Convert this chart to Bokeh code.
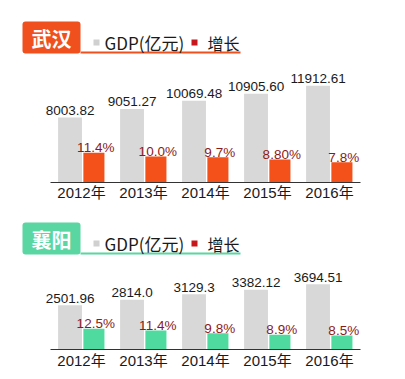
from bokeh.plotting import figure
from bokeh.models import Range1d, ColumnDataSource
from bokeh.transform import dodge
from bokeh.core.properties import value
from bokeh.embed import file_html
from bokeh.resources import INLINE

# ---------------- data ----------------
years = [2012, 2013, 2014, 2015, 2016]
year_labels = ["2012年", "2013年", "2014年", "2015年", "2016年"]

wuhan_gdp = [8003.82, 9051.27, 10069.48, 10905.60, 11912.61]
wuhan_gdp_labels = ["8003.82", "9051.27", "10069.48", "10905.60", "11912.61"]
wuhan_growth = [11.4, 10.0, 9.7, 8.8, 7.8]
wuhan_growth_labels = ["11.4%", "10.0%", "9.7%", "8.80%", "7.8%"]

xiangyang_gdp = [2501.96, 2814.0, 3129.3, 3382.12, 3694.51]
xiangyang_gdp_labels = ["2501.96", "2814.0", "3129.3", "3382.12", "3694.51"]
xiangyang_growth = [12.5, 11.4, 9.8, 8.9, 8.5]
xiangyang_growth_labels = ["12.5%", "11.4%", "9.8%", "8.9%", "8.5%"]

legend_labels = ["GDP(亿元)", "增长"]

NUM_FONT = "'Liberation Sans', 'Noto Sans CJK SC'"
CJK_FONT = "'Noto Sans CJK SC'"
GRAY = "#D8D8D8"
PCT_COLOR = "#8B1A1A"
TEXT = "#1a1a1a"

W, H = 389, 371
PX_PER_YEAR = 62.0
X_FIRST = 81.0  # pixel centre of the first category

p = figure(width=W, height=H, output_backend="svg", toolbar_location=None,
           x_range=Range1d(years[0] - X_FIRST / PX_PER_YEAR,
                           years[0] + (W - X_FIRST) / PX_PER_YEAR),
           y_range=Range1d(H, 0),
           x_axis_location=None, y_axis_location=None,
           min_border=0, min_border_left=0, min_border_right=0,
           min_border_top=0, min_border_bottom=0)
p.outline_line_color = None
p.xgrid.grid_line_color = None
p.ygrid.grid_line_color = None
p.background_fill_color = "white"
p.border_fill_color = "white"
p.extra_x_ranges = {"px": Range1d(0, W)}


def add_panel(key, gdp, gdp_labels, growth, growth_labels, base, s_gdp, s_g,
              bar_color, year_dy):
    # value ranges with zero at the panel's baseline (pixel row `base`)
    p.extra_y_ranges[key + "_gdp"] = Range1d(-(H - base) / s_gdp, base / s_gdp)
    p.extra_y_ranges[key + "_g"] = Range1d(-(H - base) / s_g, base / s_g)
    src = ColumnDataSource(dict(year=years, ylab=year_labels, gdp=gdp, gl=gdp_labels,
                                growth=growth, pl=growth_labels, zero=[0] * len(years)))
    p.vbar(x=dodge("year", -0.185), top="gdp", bottom=0, width=0.385, source=src,
           fill_color=GRAY, line_color=None, y_range_name=key + "_gdp")
    p.vbar(x=dodge("year", 0.20), top="growth", bottom=0, width=0.34, source=src,
           fill_color=bar_color, line_color=None, y_range_name=key + "_g")
    p.segment(x0=years[0] - 0.5, x1=years[-1] + 0.5, y0=0, y1=0,
              line_color="#333333", line_width=1.2, y_range_name=key + "_gdp")
    p.text(x=dodge("year", -0.185), y="gdp", text="gl", source=src,
           text_font=value(NUM_FONT), text_font_size="13.5px", text_color=TEXT,
           text_align="center", text_baseline="alphabetic", y_offset=-7,
           y_range_name=key + "_gdp")
    p.text(x=dodge("year", 0.23), y="growth", text="pl", source=src,
           text_font=value(NUM_FONT), text_font_size="13.5px", text_color=PCT_COLOR,
           text_align="center", text_baseline="alphabetic", y_offset=-5,
           y_range_name=key + "_g")
    p.text(x="year", y="zero", text="ylab", source=src,
           text_font=value(NUM_FONT), text_font_size="15px", text_color=TEXT,
           text_align="center", text_baseline="middle", y_offset=year_dy,
           y_range_name=key + "_gdp")


def rect(l, r, t, b, color, radius=0):
    kw = dict(left=[l], right=[r], top=[t], bottom=[b], fill_color=color,
              line_color=None, x_range_name="px")
    if radius:
        try:
            p.quad(border_radius=radius, **kw)
            return
        except Exception:
            pass
    p.quad(**kw)


def header(city, top, accent):
    rect(22, 80, top, top + 32, accent, radius=3)
    rect(80, 240, top + 30, top + 32, accent)
    p.text(x=[51], y=[top + 16.5], text=[city], x_range_name="px",
           text_font=value(CJK_FONT), text_font_size="20px", text_font_style="bold",
           text_color="white", text_align="center", text_baseline="middle")
    rect(93, 99, top + 18, top + 24, "#D0D0D0")
    p.text(x=[104], y=[top + 21], text=[legend_labels[0]], x_range_name="px",
           text_font=value(CJK_FONT), text_font_size="17px", text_color=TEXT,
           text_align="left", text_baseline="middle")
    rect(191, 197, top + 18, top + 24, "#C8161D")
    p.text(x=[207], y=[top + 21], text=[legend_labels[1]], x_range_name="px",
           text_font=value(CJK_FONT), text_font_size="16px", text_color=TEXT,
           text_align="left", text_baseline="middle")


header("武汉", 21, "#F0501E")
header("襄阳", 222, "#5AD6A2")

add_panel("t", wuhan_gdp, wuhan_gdp_labels, wuhan_growth, wuhan_growth_labels,
          182, 0.00813, 2.6, "#F4501A", 10)
add_panel("b", xiangyang_gdp, xiangyang_gdp_labels, xiangyang_growth,
          xiangyang_growth_labels, 349, 0.01765, 1.66, "#4FDBA0", 11)

open("out.html", "w").write(file_html(p, INLINE))
